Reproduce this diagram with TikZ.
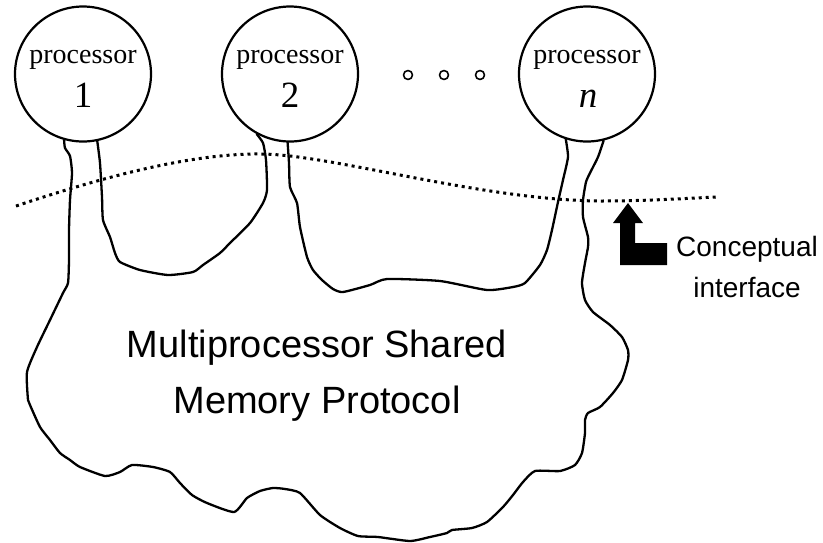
\documentclass[tikz,border=0pt]{standalone}
\usepackage{fontspec}
\setmainfont{Liberation Serif}
\setsansfont{Liberation Sans}
\usetikzlibrary{shapes.geometric}
\begin{document}
\begin{tikzpicture}[x=1pt,y=-1pt,line join=round,line cap=round,
  outline/.style={line width=2.3pt},
  proc/.style={ellipse,draw,line width=2.2pt,minimum width=136pt,minimum height=135pt,inner sep=0pt},
  ptext/.style={anchor=base,inner sep=0pt,font=\fontsize{28}{30}\selectfont},
  pnum/.style={anchor=base,inner sep=0pt,font=\fontsize{37}{40}\selectfont},
  bigtext/.style={anchor=base,inner sep=0pt,font=\sffamily\fontsize{38}{44}\selectfont},
  smalltext/.style={anchor=base,inner sep=0pt,font=\sffamily\fontsize{28}{32}\selectfont},
  dots/.style={line width=3pt,line cap=butt,dash pattern=on 3pt off 4pt},
  ell/.style={circle,draw,line width=1.6pt,minimum size=9pt,inner sep=0pt}]
\useasboundingbox (0,0) rectangle (823,542);

% processors
\node[proc] (p1) at (83,74) {};
\node[proc] (p2) at (290,74) {};
\node[proc] (pn) at (587,74) {};
\node[ptext] (p1a) at (83,63) {processor};
\node[ptext] (p2a) at (290,63) {processor};
\node[ptext] (pna) at (587,63) {processor};
\node[pnum] (p1b) at (83,107) {1};
\node[pnum] (p2b) at (290,107) {2};
\node[pnum] (pnb) at (588,107) {\itshape n};

% ellipsis circles
\node[ell] (e1) at (408,75) {};
\node[ell] (e2) at (444,75) {};
\node[ell] (e3) at (480,75) {};

% outer outline
\draw[outline] plot[smooth,tension=0.35] coordinates {(p1.254) (65,148) (70,156) (72,173) (70,200) (69,230) (69,260) (68,283) (63,293) (50,320) (37,347) (27,372) (28,400) (30,405) (40,427) (50,440) (60,453) (70,460) (80,467) (105,476) (120,472) (132,465) (153,467) (170,472) (180,483) (192,495) (207,503) (234,512) (247,498) (260,491) (273,488) (285,489) (300,493) (320,515) (340,528) (358,536) (378,537) (410,541) (430,537) (447,533) (452,530) (472,528) (487,522) (503,507) (513,495) (523,482) (535,471) (560,471) (575,465) (582,453) (585,433) (585,420) (588,413) (600,407) (613,393) (622,380) (628,360) (628,350) (622,337) (610,325) (593,312) (585,300) (582,283) (585,263) (588,247) (588,237) (583,217) (583,200) (586,182) (590,173) (598,157) (pn.284)};

% between processor 1 and 2
\draw[outline] plot[smooth,tension=0.35] coordinates {(p1.282) (100,163) (102,197) (103,220) (110,237) (115,253) (120,262) (140,270) (168,275) (193,272) (203,265) (220,253) (230,243) (250,223) (263,203) (267,190) (266,160) (263,143) (p2.241)};

% between processor 2 and n
\draw[outline] plot[smooth,tension=0.35] coordinates {(p2.268) (289,163) (290,187) (297,203) (300,227) (307,257) (313,270) (322,280) (333,289) (343,292) (370,285) (387,279) (440,281) (487,290) (513,287) (525,283) (540,265) (547,250) (552,230) (558,202) (563,180) (568,157) (pn.252)};

% conceptual interface (dotted)
\coordinate (d0) at (16,206);
\coordinate (d1) at (262,154);
\coordinate (d2) at (600,201);
\coordinate (d3) at (718,197);
\draw[dots] (d0) .. controls (100,178) and (190,153) .. (d1) .. controls (334,155) and (480,200) .. (d2) .. controls (650,201) and (690,198) .. (d3);

% arrow
\fill (628,203) -- (643,223) -- (635,223) -- (635,243) -- (667,243) -- (667,265) -- (620,265) -- (620,223) -- (613,223) -- cycle;

% labels
\node[bigtext] (m1) at (317,357) {Multiprocessor Shared};
\node[bigtext] (m2) at (317,413) {Memory Protocol};
\node[smalltext] (c1) at (747,256) {Conceptual};
\node[smalltext] (c2) at (747,297) {interface};
\end{tikzpicture}
\end{document}
